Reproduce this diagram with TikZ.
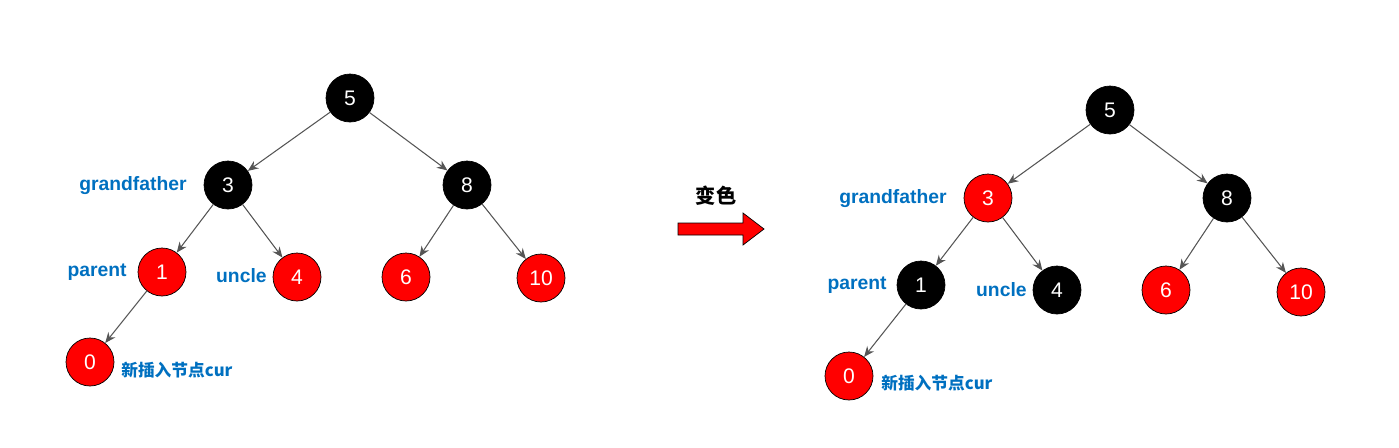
\documentclass[tikz,border=0pt]{standalone}
\usepackage{fontspec}
\setmainfont{Liberation Sans}
\newfontfamily\cjk{Noto Sans CJK SC}
\usetikzlibrary{arrows.meta}
\definecolor{lblue}{HTML}{0070C0}
\definecolor{egray}{HTML}{555555}

\begin{document}
\begin{tikzpicture}[x=0.02cm,y=-0.02cm]
\tikzset{rb/.style = {shape=circle,draw=black,thin,minimum size=0.96cm,inner sep=0pt,text=white,font=\fontsize{12}{14}\selectfont}}
\tikzset{bk/.style = {rb,fill=black}}
\tikzset{rd/.style = {rb,fill=red}}
\tikzset{edge/.style = {draw=egray,semithick,-{Stealth[length=6pt,width=5pt]}}}
\tikzset{lbl/.style = {anchor=east,inner sep=0pt,text=lblue,font=\bfseries\fontsize{11}{13}\selectfont}}
\tikzset{cur/.style = {anchor=west,inner sep=0pt,text=lblue,font=\cjk\bfseries\fontsize{9.5}{11}\selectfont}}

\useasboundingbox (0,0) rectangle (1399,447);

% before
\node[bk] (a5)  at (350,98)  {5};
\node[bk] (a3)  at (228,185) {3};
\node[bk] (a8)  at (467,185) {8};
\node[rd] (a1)  at (162,272) {1};
\node[rd] (a4)  at (297,277) {4};
\node[rd] (a6)  at (406,277) {6};
\node[rd] (a10) at (541,278) {10};
\node[rd] (a0)  at (90,362)  {0};

\draw[edge] (a5) -- (a3);
\draw[edge] (a5) -- (a8);
\draw[edge] (a3) -- (a1);
\draw[edge] (a3) -- (a4);
\draw[edge] (a8) -- (a6);
\draw[edge] (a8) -- (a10);
\draw[edge] (a1) -- (a0);

\node[lbl] (ag) at (187,186) {grandfather};
\node[lbl] (ap) at (127,272) {parent};
\node[lbl] (au) at (267,276) {uncle};
\node[cur] (ac) at (121,370) {新插入节点cur};

% recolour
\node[font=\cjk\bfseries\fontsize{11.5}{13}\selectfont] (t) at (716,196) {变色};
\draw[black,thin,fill=red] (678,223) -- (743,223) -- (743,213) -- (764,229)
  -- (743,245) -- (743,235) -- (678,235) -- cycle;

% after
\node[bk] (b5)  at (1110,110) {5};
\node[rd] (b3)  at (988,198)  {3};
\node[bk] (b8)  at (1227,198) {8};
\node[bk] (b1)  at (921,285)  {1};
\node[bk] (b4)  at (1057,290) {4};
\node[rd] (b6)  at (1166,290) {6};
\node[rd] (b10) at (1301,292) {10};
\node[rd] (b0)  at (849,376)  {0};

\draw[edge] (b5) -- (b3);
\draw[edge] (b5) -- (b8);
\draw[edge] (b3) -- (b1);
\draw[edge] (b3) -- (b4);
\draw[edge] (b8) -- (b6);
\draw[edge] (b8) -- (b10);
\draw[edge] (b1) -- (b0);

\node[lbl] (bg) at (947,199) {grandfather};
\node[lbl] (bp) at (887,285) {parent};
\node[lbl] (bu) at (1027,290) {uncle};
\node[cur] (bc) at (881,383) {新插入节点cur};
\end{tikzpicture}
\end{document}
